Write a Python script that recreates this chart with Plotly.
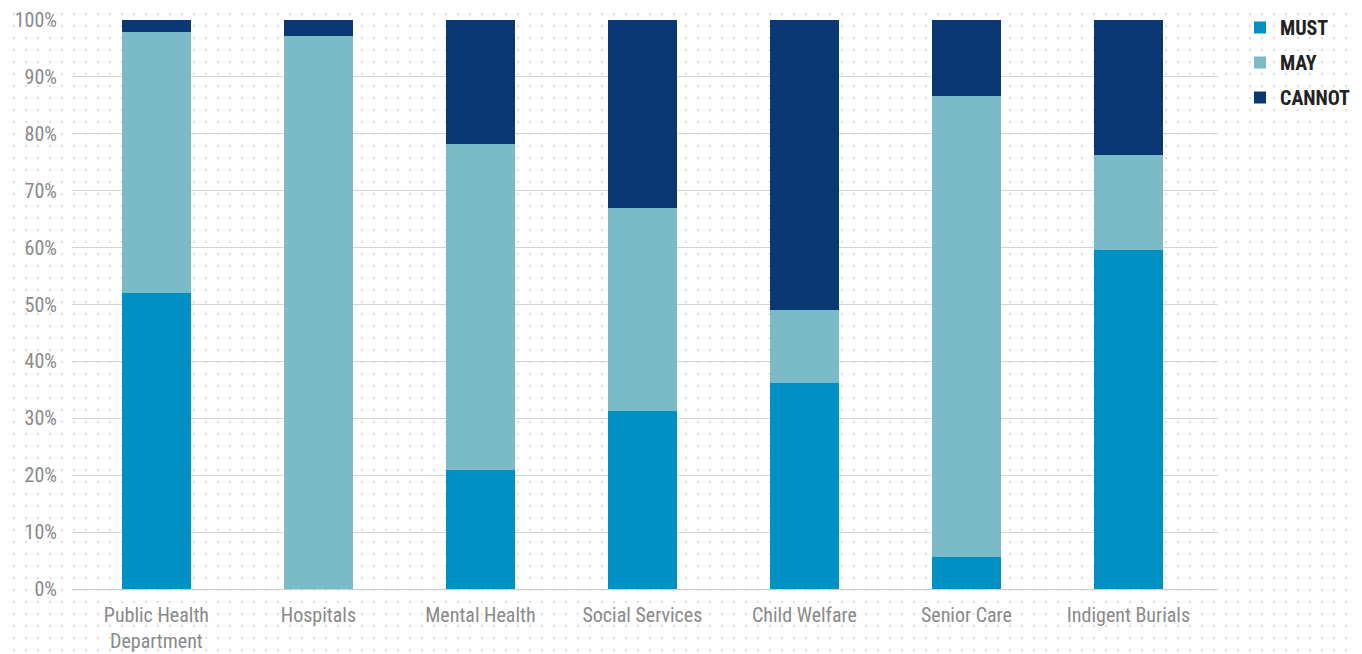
import base64
import plotly.graph_objects as go

categories = ["Public Health<br>Department", "Hospitals", "Mental Health", "Social Services",
              "Child Welfare", "Senior Care", "Indigent Burials"]
must = [52.0, 0.0, 20.9, 31.3, 36.2, 5.6, 59.6]
may = [45.9, 97.2, 57.3, 35.7, 12.8, 81.0, 16.7]
cannot = [2.1, 2.8, 21.8, 33.0, 51.0, 13.4, 23.7]
y_ticks = list(range(0, 101, 10))
y_tick_labels = [f"{v}%" for v in y_ticks]

colors = {"MUST": "#0090C3", "MAY": "#7BBBC8", "CANNOT": "#0A3875"}
font_fam = "Roboto Condensed, Liberation Sans Narrow, Roboto, sans-serif"

# page has an 8px body margin, so the figure is laid out 8px up/left
W, H = 1354, 646
ml, mr, mt, mb = 64, 0, 0, 65
pw, ph = W - ml - mr, H - mt - mb
plot_right, plot_top = 1210, 12
xdom = (plot_right - ml) / pw
ydom_top = (H - mb - plot_top) / ph

svg = (f"<svg xmlns='http://www.w3.org/2000/svg' width='{W}' height='{H}'>"
       "<defs><pattern id='p' width='12' height='12' patternUnits='userSpaceOnUse'>"
       "<rect x='5' y='5' width='2' height='2' fill='#dcdce4'/></pattern></defs>"
       "<rect width='100%' height='100%' fill='url(#p)'/></svg>")
src = "data:image/svg+xml;base64," + base64.b64encode(svg.encode()).decode()

fig = go.Figure()
for name, vals in [("MUST", must), ("MAY", may), ("CANNOT", cannot)]:
    fig.add_bar(x=categories, y=vals, name=name, legendgroup=name,
                marker=dict(color=colors[name], line=dict(width=0)),
                width=0.424, hoverinfo="x+y+name")

fig.update_layout(
    barmode="stack",
    width=W, height=H,
    margin=dict(l=ml, r=mr, t=mt, b=mb, autoexpand=False),
    paper_bgcolor="white",
    plot_bgcolor="rgba(0,0,0,0)",
    font=dict(family=font_fam, size=20, color="#8a8a8a"),
    images=[dict(source=src, xref="paper", yref="paper", x=-ml / pw, y=1 + mt / ph,
                 sizex=W / pw, sizey=H / ph, sizing="stretch", xanchor="left", yanchor="top",
                 layer="below")],
    legend=dict(x=(1232 - ml) / pw, y=1.0, xanchor="left", yanchor="top",
                font=dict(family=font_fam, size=20, color="#222222", weight="bold"),
                bgcolor="rgba(0,0,0,0)", traceorder="grouped", tracegroupgap=6, itemwidth=30),
    showlegend=True,
)
fig.update_xaxes(domain=[0, xdom], range=[-0.521, 6.553], showgrid=False, showline=True,
                 linecolor="#cccccc", linewidth=1, ticks="", automargin=False,
                 ticklabelstandoff=8, tickfont=dict(size=20, color="#8a8a8a"))
fig.update_yaxes(domain=[0, ydom_top], range=[0, 100], tickvals=y_ticks, ticktext=y_tick_labels,
                 showgrid=True, gridcolor="#d4d4d4", gridwidth=1, zeroline=False, ticks="",
                 automargin=False, ticklabelstandoff=14, tickfont=dict(size=20, color="#8a8a8a"))

fig.write_html("out.html")
